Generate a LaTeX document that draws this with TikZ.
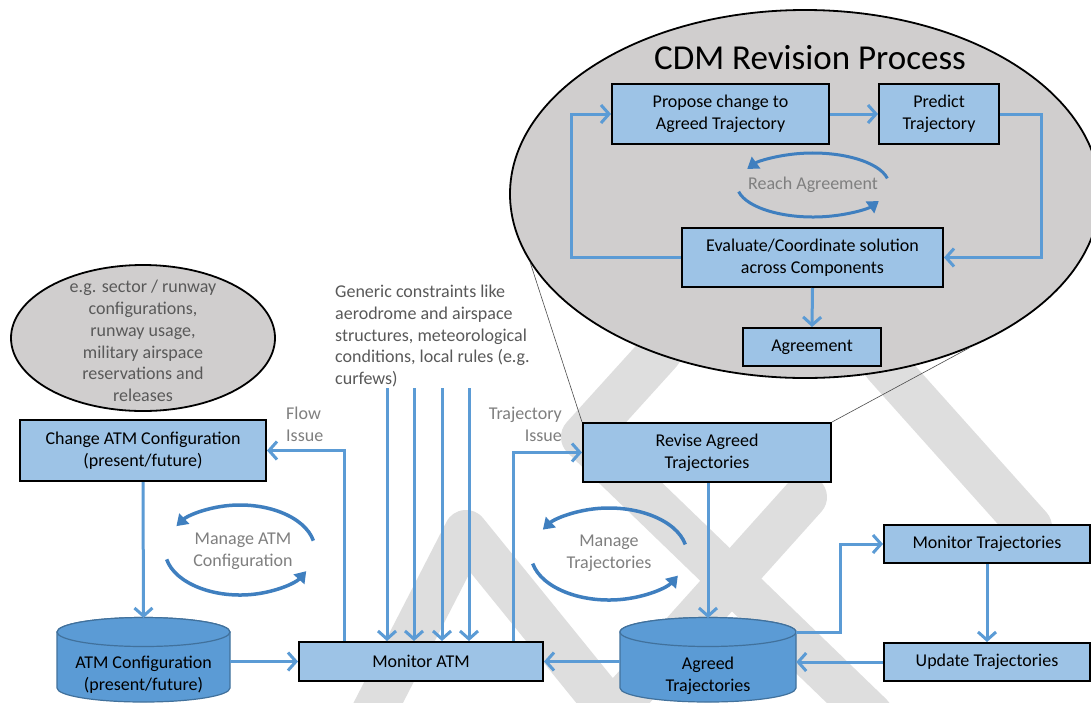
\documentclass[tikz,border=0pt]{standalone}
\usepackage{fontspec}
\setmainfont{Carlito}
\usetikzlibrary{shapes.geometric,arrows.meta}

\definecolor{boxblue}{HTML}{9DC3E6}
\definecolor{storeblue}{HTML}{5B9BD5}
\definecolor{storeline}{HTML}{41719C}
\definecolor{flowblue}{HTML}{5B9BD5}
\definecolor{loopblue}{HTML}{3F7FBF}
\definecolor{ovalgray}{HTML}{D0CECE}
\definecolor{markgray}{HTML}{DEDEDE}
\definecolor{notegray}{HTML}{595959}
\definecolor{labelgray}{HTML}{7F7F7F}

\begin{document}
\begin{tikzpicture}[x=1pt, y=-1pt,
    every node/.style={font=\fontsize{18}{21.7}\selectfont, inner sep=0pt},
    box/.style={draw=black, line width=2pt, fill=boxblue, align=center},
    flow/.style={draw=flowblue, line width=3pt, -{Straight Barb[length=8pt,width=18pt]}},
    cyclearc/.style={draw=loopblue, line width=3.5pt, -{Triangle[length=11pt,width=14pt]}},
    greyoval/.style={ellipse, draw=black, line width=1.8pt, fill=ovalgray},
    note/.style={text=notegray, align=left},
    store/.style={fill=storeblue, draw=storeline, line width=1.2pt},
    wmark/.style={draw=markgray, line width=44pt, line cap=round, line join=round}]

    % Page
    \fill[white] (0,0) rectangle (1091,702);
    \useasboundingbox (0,0) rectangle (1091,702);

    % Draw the watermark
    \draw[wmark] (372,715) -- (466,532) -- (612,712) -- (805,497);
    \draw[wmark] (660,352) -- (583,437) -- (871,715);
    \draw[wmark] (885,365) -- (1030,527);

    % CDM revision process
    \node[greyoval, minimum width=590pt, minimum height=368pt] (cdm) at (805,194) {};
    \node[font=\fontsize{35}{42}\selectfont] (title) at (810,58) {CDM Revision Process};
    \node[box, minimum width=217pt, minimum height=60pt] (propose) at (720.5,114) {Propose change to\\Agreed Trajectory};
    \node[box, minimum width=120pt, minimum height=60pt] (predict) at (939,114) {Predict\\Trajectory};
    \node[box, minimum width=261pt, minimum height=59pt] (evaluate) at (812.5,257.5) {Evaluate/Coordinate solution\\across Components};
    \node[box, minimum width=138pt, minimum height=38pt] (agreement) at (812,347) {Agreement};
    \node[text=labelgray] (reachlbl) at (813,185) {Reach Agreement};
    \draw[cyclearc, line width=3pt] ([shift={(-12:76 and 32)}]813,185) arc[start angle=-12, end angle=-150, x radius=76, y radius=32];
    \draw[cyclearc, line width=3pt] ([shift={(168:76 and 32)}]813,185) arc[start angle=168, end angle=30, x radius=76, y radius=32];

    \draw[flow] (propose) -- (predict);
    \draw[flow] (predict.east) -- ++(41,0) |- (evaluate.east);
    \draw[flow] (evaluate.west) -- ++(-110,0) |- (propose.west);
    \draw[flow] (evaluate.south) -- (agreement.north);

    % Examples of configurations
    \node[greyoval, minimum width=264pt, minimum height=146pt] (examples) at (143,338) {};
    \node[text=notegray, align=center] (exampletext) at (143,341) {e.g. sector / runway\\configurations,\\runway usage,\\military airspace\\reservations and\\releases};

    % Main boxes
    \node[box, minimum width=246pt, minimum height=61pt] (change) at (143,450.5) {Change ATM Configuration\\(present/future)};
    \node[box, minimum width=244pt, minimum height=39pt] (monitor) at (421,661.5) {Monitor ATM};
    \node[box, minimum width=248pt, minimum height=59pt] (revise) at (707,452.5) {Revise Agreed\\Trajectories};
    \node[box, minimum width=206pt, minimum height=38pt] (montraj) at (987,544) {Monitor Trajectories};
    \node[box, minimum width=206pt, minimum height=38pt] (update) at (987,662) {Update Trajectories};

    % Zoom lines
    \draw[gray!60!black, line width=0.6pt] (cdm.194) -- (revise.north west);
    \draw[gray!60!black, line width=0.6pt] (cdm.317) -- (revise.north east);

    % Data stores
    \draw[store] (57,632) -- (57,688) arc[start angle=180, end angle=0, x radius=86.5, y radius=14]
        -- (230,632) arc[start angle=0, end angle=-180, x radius=86.5, y radius=14.5] -- cycle;
    \draw[store] (143.5,632) ellipse[x radius=86.5, y radius=14.5];
    \coordinate (atmcfgtop) at (143.5,618);
    \node[align=center, minimum width=173pt, minimum height=56pt] (atmcfg) at (143.5,675) {ATM Configuration\\(present/future)};

    \draw[store] (620,632) -- (620,688) arc[start angle=180, end angle=0, x radius=88, y radius=14]
        -- (796,632) arc[start angle=0, end angle=-180, x radius=88, y radius=14.5] -- cycle;
    \draw[store] (708,632) ellipse[x radius=88, y radius=14.5];
    \coordinate (agreedtop) at (708,618);
    \coordinate (agreedrim) at (796,632);
    \node[align=center, minimum width=176pt, minimum height=56pt] (agreed) at (708,676) {Agreed\\Trajectories};

    % Management cycles
    \node[text=labelgray, align=center] (atmcfglbl) at (243,551) {Manage ATM\\Configuration};
    \draw[cyclearc] ([shift={(-12:75 and 45)}]240,550) arc[start angle=-12, end angle=-148, x radius=75, y radius=45];
    \draw[cyclearc] ([shift={(168:75 and 45)}]240,550) arc[start angle=168, end angle=28, x radius=75, y radius=45];

    \node[text=labelgray, align=center] (trajlbl) at (609,553.5) {Manage\\Trajectories};
    \draw[cyclearc] ([shift={(-12:78 and 46)}]609,554) arc[start angle=-12, end angle=-148, x radius=78, y radius=46];
    \draw[cyclearc] ([shift={(168:78 and 46)}]609,554) arc[start angle=168, end angle=28, x radius=78, y radius=46];

    % Texts
    \node[note, anchor=north west] (generic) at (335,285) {Generic constraints like\\aerodrome and airspace\\structures, meteorological\\conditions, local rules (e.g.\\curfews)};
    \node[note, text=labelgray, anchor=north west] (flowissue) at (286,407) {Flow\\Issue};
    \node[note, text=labelgray, align=right, anchor=north east] (trajissue) at (562,407) {Trajectory\\Issue};

    % Connectors
    \foreach \x [count=\i] in {387,414,442,469}{
        \coordinate (gen\i) at (\x,388);
        \draw[flow] (gen\i) -- (gen\i |- monitor.north);
    }
    \coordinate (flowbend) at (344,451);
    \coordinate (trajbend) at (513,452);
    \draw[flow] (flowbend |- monitor.north) |- (change.east);
    \draw[flow] (trajbend |- monitor.north) |- (revise.west);
    \draw[flow] (change.south) -- (atmcfgtop);
    \draw[flow] (atmcfg.east |- monitor.west) -- (monitor.west);
    \draw[flow] (agreed.west |- monitor.east) -- (monitor.east);
    \draw[flow] (revise.south -| agreedtop) -- (agreedtop);
    \draw[flow] (agreedrim) -- ++(44,0) |- (montraj.west);
    \draw[flow] (montraj.south) -- (update.north);
    \draw[flow] (update.west) -- (update.west -| agreed.east);

\end{tikzpicture}
\end{document}
